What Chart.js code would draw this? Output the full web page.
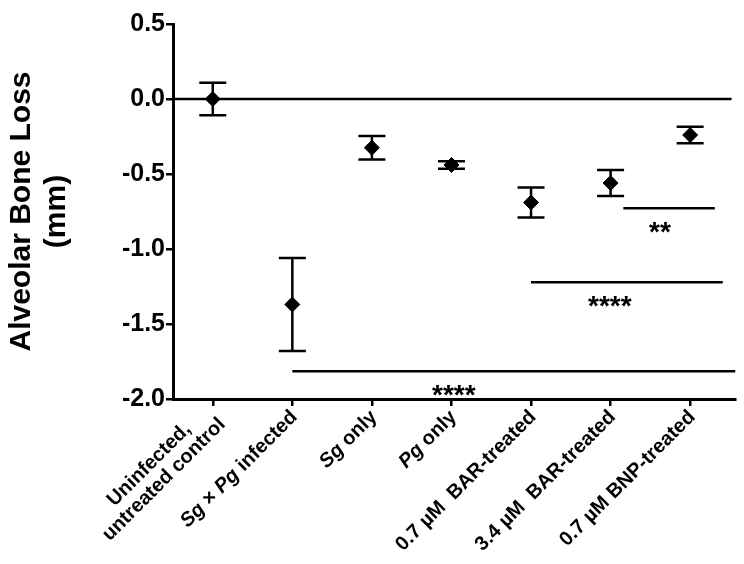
<!DOCTYPE html>
<html>
<head>
<meta charset="utf-8">
<script src="https://cdn.jsdelivr.net/npm/chart.js@4.4.1/dist/chart.umd.min.js"></script>
<style>
  html, body { margin: 0; padding: 0; background: #fff; }
  #wrap { width: 744px; height: 564px; }
</style>
</head>
<body>
<div id="wrap"><canvas id="chart" width="744" height="564"></canvas></div>
<script>
// groups, left to right
const categories = [
  ["Uninfected,", "untreated control"],
  "Sg × Pg infected",
  "Sg only",
  "Pg only",
  "0.7 µM  BAR-treated",
  "3.4 µM  BAR-treated",
  "0.7 µM BNP-treated"
];
const italicTerms = ["Sg", "Pg"];

// mean alveolar bone loss (mm) and error (+/-)
const means = [0.0, -1.37, -0.325, -0.44, -0.69, -0.56, -0.24];
const errors = [0.108, 0.31, 0.078, 0.025, 0.10, 0.087, 0.055];

const yTicks = [0.5, 0.0, -0.5, -1.0, -1.5, -2.0];

// significance bars (x in group index units, y in mm)
const sigStart = [5.16, 4.0, 1.0];
const sigEnd = [6.31, 6.41, 6.57];
const sigLevel = [-0.728, -1.221, -1.815];
const sigLabel = ["**", "****", "****"];
const sigTextX = [5.62, 4.99, 3.03];

const FONT = "'Liberation Sans', Arial, Helvetica, sans-serif";

const datasets = [{
  label: "Alveolar Bone Loss",
  data: means.map((v, i) => ({ x: i, y: v })),
  showLine: false,
  pointStyle: "rectRot",
  pointRadius: 7.5,
  pointBackgroundColor: "#000",
  pointBorderColor: "#000",
  pointBorderWidth: 1
}, {
  label: "zero",
  data: [{ x: -0.5, y: 0 }, { x: 6.52, y: 0 }],
  borderColor: "#000",
  borderWidth: 2.5,
  pointRadius: 0
}];

sigStart.forEach((s, i) => {
  datasets.push({
    label: "sig" + i,
    data: [{ x: s, y: sigLevel[i] }, { x: sigEnd[i], y: sigLevel[i] }],
    borderColor: "#000",
    borderWidth: 2.5,
    pointRadius: 0
  });
});

const errorBars = {
  id: "errorBars",
  beforeDatasetsDraw(chart) {
    const x = chart.scales.x, y = chart.scales.y, ctx = chart.ctx;
    ctx.save();
    ctx.strokeStyle = "#000";
    ctx.lineWidth = 2.5;
    means.forEach((m, i) => {
      const px = x.getPixelForValue(i);
      const top = y.getPixelForValue(m + errors[i]);
      const bot = y.getPixelForValue(m - errors[i]);
      ctx.beginPath();
      ctx.moveTo(px, top); ctx.lineTo(px, bot);
      ctx.moveTo(px - 13.5, top); ctx.lineTo(px + 13.5, top);
      ctx.moveTo(px - 13.5, bot); ctx.lineTo(px + 13.5, bot);
      ctx.stroke();
    });
    ctx.restore();
  }
};

const sigText = {
  id: "sigText",
  afterDatasetsDraw(chart) {
    const x = chart.scales.x, y = chart.scales.y, ctx = chart.ctx;
    ctx.save();
    ctx.fillStyle = "#000";
    ctx.font = "bold 28px " + FONT;
    ctx.textAlign = "center";
    ctx.textBaseline = "alphabetic";
    sigLabel.forEach((t, i) => {
      const cy = y.getPixelForValue(sigLevel[i]) + 17;
      ctx.fillText(t, x.getPixelForValue(sigTextX[i]), cy + 16);
    });
    ctx.restore();
  }
};

// rotated category labels, with species names in italics
const xLabels = {
  id: "xLabels",
  afterDraw(chart) {
    const x = chart.scales.x, ctx = chart.ctx;
    const size = 20, lh = 21;
    const re = new RegExp("(" + italicTerms.join("|") + ")");
    const fontFor = it => (it ? "italic bold " : "bold ") + size + "px " + FONT;
    ctx.save();
    ctx.fillStyle = "#000";
    ctx.textAlign = "left";
    ctx.textBaseline = "middle";
    categories.forEach((cat, i) => {
      const lines = Array.isArray(cat) ? cat : [cat];
      const parts = lines.map(l => l.split(re).filter(s => s !== "").map(s => ({ s, it: italicTerms.includes(s) })));
      const widths = parts.map(p => p.reduce((w, seg) => { ctx.font = fontFor(seg.it); return w + ctx.measureText(seg.s).width; }, 0));
      const maxW = Math.max(...widths);
      ctx.save();
      ctx.translate(x.getPixelForValue(i) + 2, x.top + 15);
      ctx.rotate(-Math.PI / 4);
      parts.forEach((p, j) => {
        let cx = -maxW / 2 - widths[j] / 2;
        const ly = (j - (lines.length - 1) / 2) * lh;
        p.forEach(seg => {
          ctx.font = fontFor(seg.it);
          ctx.fillText(seg.s, cx, ly);
          cx += ctx.measureText(seg.s).width;
        });
      });
      ctx.restore();
    });
    ctx.restore();
  }
};

new Chart(document.getElementById("chart"), {
  type: "line",
  data: { datasets },
  plugins: [errorBars, sigText, xLabels],
  options: {
    responsive: false,
    animation: false,
    layout: { padding: { left: 0, right: 4, top: 24, bottom: 0 } },
    plugins: { legend: { display: false }, tooltip: { enabled: false } },
    scales: {
      x: {
        type: "linear",
        min: -0.5,
        max: 6.57,
        afterBuildTicks: s => { s.ticks = categories.map((c, i) => ({ value: i })); },
        afterFit: s => { s.height = 165; },
        ticks: { display: false },
        grid: { drawOnChartArea: false, drawTicks: true, tickLength: 7, color: "#000", lineWidth: 2.5 },
        border: { display: true, color: "#000", width: 3 }
      },
      y: {
        min: -2,
        max: 0.5,
        afterBuildTicks: s => { s.ticks = yTicks.map(v => ({ value: v })); },
        afterFit: s => { s.width = 173; },
        ticks: {
          color: "#000",
          padding: 1,
          font: { family: FONT, size: 25, weight: "bold" },
          callback: v => v.toFixed(1)
        },
        grid: { drawOnChartArea: false, drawTicks: true, tickLength: 7, color: "#000", lineWidth: 2.5 },
        border: { display: true, color: "#000", width: 3 },
        title: {
          display: true,
          text: ["Alveolar Bone Loss", "(mm)"],
          color: "#000",
          font: { family: FONT, size: 30, weight: "bold", lineHeight: 1.17 },
          padding: { top: 4, bottom: 0 }
        }
      }
    }
  }
});
</script>
</body>
</html>
